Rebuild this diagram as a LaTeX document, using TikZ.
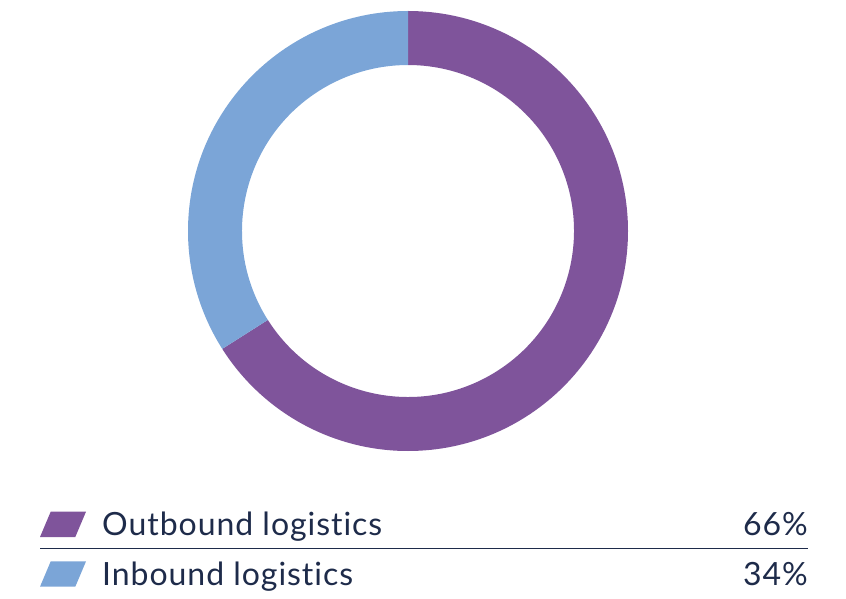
\documentclass[tikz,border=0pt]{standalone}
\usepackage{fontspec}
\setmainfont{Lato}[Ligatures=NoCommon, LetterSpace=3]
\definecolor{outbound}{HTML}{7F549B}
\definecolor{inbound}{HTML}{7BA5D7}
\definecolor{navy}{HTML}{1E2B4A}
\tikzset{
	legtext/.style={anchor=base west, inner sep=0pt, text=navy, font=\fontsize{32}{36}\selectfont},
	legval/.style={anchor=base east, inner sep=0pt, text=navy, font=\fontsize{32}{36}\selectfont},
}
\begin{document}
\begin{tikzpicture}[x=1pt,y=1pt]
		\useasboundingbox (0,0) rectangle (846,598);
		\coordinate (C) at (408,367);
		% anneau
		\fill[outbound] ([shift={(90:220)}]C) arc (90:-147.6:220) -- ([shift={(-147.6:166)}]C) arc (-147.6:90:166) -- cycle;
		\fill[inbound] ([shift={(90:220)}]C) arc (90:212.4:220) -- ([shift={(212.4:166)}]C) arc (212.4:90:166) -- cycle;
		% légende
		\fill[outbound] (40,61) -- (50.7,86.3) -- (86,86.3) -- (75.3,61) -- cycle;
		\fill[inbound] (40,11.3) -- (50.7,36.6) -- (86,36.6) -- (75.3,11.3) -- cycle;
		\node (Ob) at (102,62.3) [legtext] {Outbound logistics};
		\node (Ib) at (102,12.3) [legtext] {Inbound logistics};
		\node (Obv) at (808,62.3) [legval] {66\%};
		\node (Ibv) at (808,12.3) [legval] {34\%};
		\coordinate (La) at (40,49.7);
		\coordinate (Lb) at (808,49.7);
		\draw[navy, line width=1.3pt] (La) -- (Lb);
	\end{tikzpicture}
\end{document}
